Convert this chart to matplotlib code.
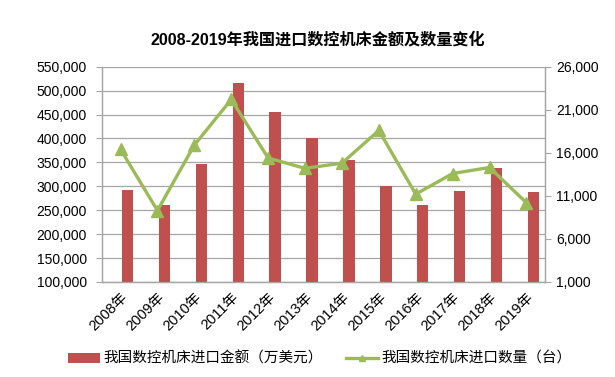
import numpy as np
import matplotlib
matplotlib.use("Agg")
import matplotlib.pyplot as plt
from matplotlib.ticker import FuncFormatter

plt.rcParams['font.family'] = ['Liberation Sans', 'Noto Sans CJK SC', 'DejaVu Sans']

years = ['2008年', '2009年', '2010年', '2011年', '2012年', '2013年',
         '2014年', '2015年', '2016年', '2017年', '2018年', '2019年']
amount = [293000, 261000, 347000, 516000, 456000, 401000,
          355000, 300000, 261000, 291000, 338000, 288000]   # 万美元
quantity = [16400, 9300, 16900, 22200, 15400, 14200,
            14800, 18600, 11200, 13600, 14300, 10200]        # 台

bar_color = '#C0504D'
line_color = '#9BBB59'
grid_color = '#a6a6a6'

x = np.arange(len(years))

fig = plt.figure(figsize=(6.15, 3.77), dpi=100)
ax = fig.add_axes([0.166, 0.252, 0.720, 0.571])
ax2 = ax.twinx()

ax.bar(x + 0.19, amount, width=0.31, color=bar_color, zorder=3,
       label='我国数控机床进口金额（万美元）')
ax2.plot(x, quantity, color=line_color, lw=2.4, marker='^', ms=8,
         zorder=4, label='我国数控机床进口数量（台）')

ax.set_xlim(-0.5, len(years) - 0.5)
ax.set_ylim(100000, 550000)
ax.set_yticks(np.arange(100000, 550001, 50000))
ax.yaxis.set_major_formatter(FuncFormatter(lambda v, p: f'{int(v):,}'))
ax2.set_ylim(1000, 26000)
ax2.set_yticks(np.arange(1000, 26001, 5000))
ax2.yaxis.set_major_formatter(FuncFormatter(lambda v, p: f'{int(v):,}'))

ax.yaxis.grid(True, color=grid_color, lw=0.9, zorder=0)
ax.set_axisbelow(True)

ax.set_xticks(x)
ax.set_xticklabels(years, rotation=45, ha='right', va='top',
                   rotation_mode='anchor', fontsize=10.5)
ax.tick_params(axis='x', length=0, pad=6)
ax.tick_params(axis='y', labelsize=10, length=4, color=grid_color, pad=7)
ax2.tick_params(axis='y', labelsize=10, length=4, color=grid_color, pad=4)

for a in (ax, ax2):
    a.spines['top'].set_visible(False)
    for s in ('left', 'right', 'bottom'):
        a.spines[s].set_color(grid_color)
        a.spines[s].set_linewidth(0.9)

fig.text(0.516, 0.894, '2008-2019年我国进口数控机床金额及数量变化',
         ha='center', va='center', fontsize=11.6, fontweight='bold')

h1, l1 = ax.get_legend_handles_labels()
h2, l2 = ax2.get_legend_handles_labels()
fig.legend(h1 + h2, l1 + l2, loc='center', bbox_to_anchor=(0.52, 0.048),
           ncol=2, frameon=False, fontsize=10.5, handlelength=2.2,
           handleheight=0.6, columnspacing=1.6, handletextpad=0.2,
           markerscale=0.6)

fig.savefig('out.png', dpi=100)
